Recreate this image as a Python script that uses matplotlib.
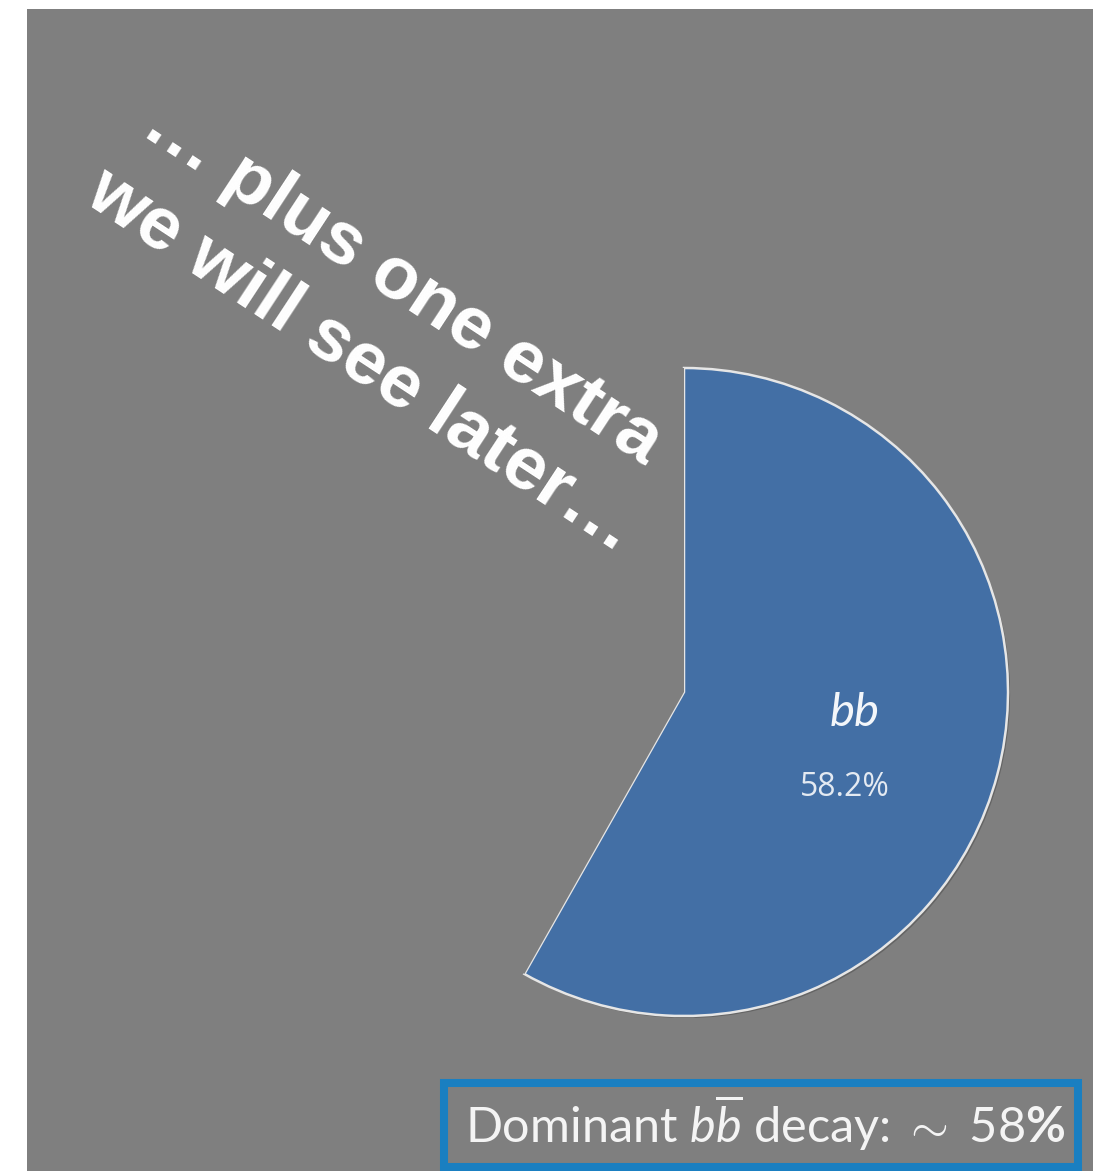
import matplotlib.pyplot as plt
import matplotlib.patheffects as pe
from matplotlib.patches import Rectangle

### DATA ###
labels = ["bb", "other"]
fractions = [58.2, 41.8]          # percent of decays
colours = ["#436fa5", "#7f7f7f"]  # "other" blends into the grey slide

W, H = 1107, 1171
GREY = "#7f7f7f"

plt.rcParams["mathtext.fontset"] = "custom"
plt.rcParams["mathtext.rm"] = "Lato"
plt.rcParams["mathtext.it"] = "Lato:italic"
plt.rcParams["mathtext.bf"] = "Lato:bold"

fig = plt.figure(figsize=(W / 100, H / 100), dpi=100)
fig.patch.set_facecolor("white")


def pixel_axes():
    # full-figure axes in pixel units, origin top-left
    a = fig.add_axes([0, 0, 1, 1])
    a.set_xlim(0, W)
    a.set_ylim(H, 0)
    a.axis("off")
    return a


bg = pixel_axes()
bg.add_patch(Rectangle((27, 9), 1066, H - 9, facecolor=GREY, edgecolor="none"))

### PIE ###
cx, cy, R = 684, 692, 324   # centre and radius in pixels
half = 350
ax = fig.add_axes([(cx - half) / W, (H - cy - half) / H, 2 * half / W, 2 * half / H])
wedges, _ = ax.pie(fractions, colors=colours, startangle=90, counterclock=False,
                   radius=1.0, wedgeprops=dict(linewidth=0))
ax.set_xlim(-half / R, half / R)
ax.set_ylim(-half / R, half / R)
ax.set_axis_off()

wedges[0].set_edgecolor("#e6e6e6")
wedges[0].set_linewidth(1.8)
wedges[0].set_path_effects([pe.SimplePatchShadow(offset=(1.5, -1.5), alpha=0.35, shadow_rgbFace="#333333"),
                            pe.Normal()])
wedges[1].set_facecolor(GREY)

pct = 100 * fractions[0] / sum(fractions)
ax.text(0.528, -0.066, labels[0], ha="center", va="center", fontsize=34,
        family="Lato", style="italic", color="#f3f6fa")
ax.text(0.497, -0.296, f"{pct:.1f}%", ha="center", va="center", fontsize=23,
        family="Open Sans", color="#e4eaf2")

### ANNOTATIONS ###
top = pixel_axes()
top.text(391.7, 299.3, "\u2026 plus one extra", rotation=-33.3, rotation_mode="anchor",
         ha="center", va="baseline", fontsize=54, fontweight="bold",
         family="Liberation Sans", color="white")
top.text(351, 377, "we will see later\u2026", rotation=-33.3, rotation_mode="anchor",
         ha="center", va="baseline", fontsize=54, fontweight="bold",
         family="Liberation Sans", color="white")

top.add_patch(Rectangle((444, 1083), 634, 84, facecolor=GREY, edgecolor="#1a7fc1", linewidth=5.8))
top.text(465, 1143, "Dominant $b\\overline{b}$ decay: $\\sim$ 58$\\mathbf{\\%}$",
         ha="left", va="baseline", fontsize=35, family="Lato",
         color="#f4f4f4")

fig.savefig("out.png", dpi=100, facecolor=fig.get_facecolor())
